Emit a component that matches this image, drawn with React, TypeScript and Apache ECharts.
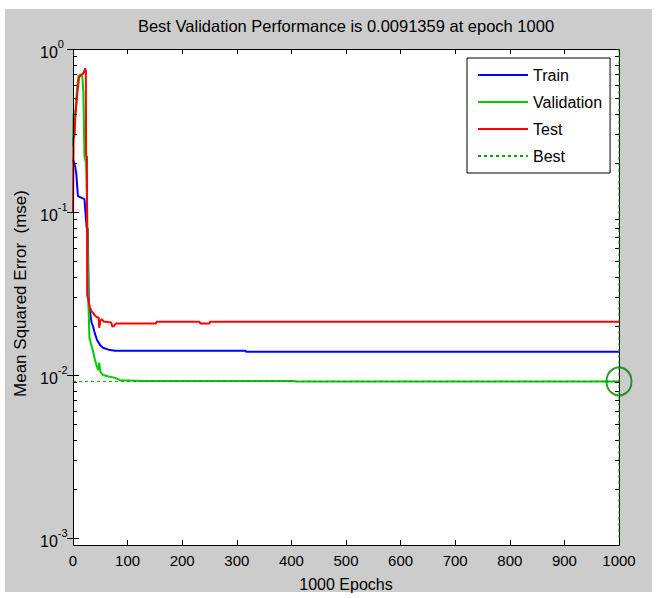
import React, { useEffect, useRef } from "react";
import * as echarts from "echarts";

const titleText = "Best Validation Performance is 0.0091359 at epoch 1000";
const xTicks = [0, 100, 200, 300, 400, 500, 600, 700, 800, 900, 1000];
const bestValue = 0.0091359;
const bestEpoch = 1000;

const trainData: number[][] = [
  [0, 0.21], [4, 0.19], [6, 0.172], [9, 0.125], [21, 0.12], [23, 0.098], [25, 0.08],
  [27, 0.079], [29, 0.026], [31, 0.0245], [34, 0.021], [37, 0.0197], [40, 0.018],
  [44, 0.0164], [50, 0.0152], [55, 0.0147], [65, 0.0143], [77, 0.0141], [316, 0.0141],
  [317, 0.0139], [1000, 0.0139],
];

const validationData: number[][] = [
  [0, 0.25], [1, 0.4], [3, 0.36], [5, 0.45], [8, 0.6], [10, 0.68], [14, 0.7], [17, 0.68],
  [19, 0.54], [21, 0.22], [24, 0.2], [26, 0.1], [27, 0.058], [28, 0.03], [30, 0.017],
  [33, 0.0155], [36, 0.0143], [40, 0.0125], [43, 0.0115], [46, 0.0107], [48, 0.0119],
  [50, 0.0105], [55, 0.01], [65, 0.0098], [77, 0.0096], [86, 0.0093], [130, 0.0092],
  [405, 0.0092], [407, 0.0091359], [1000, 0.0091359],
];

const testData: number[][] = [
  [0, 0.1], [1, 0.28], [3, 0.3], [4, 0.37], [6, 0.45], [8, 0.54], [10, 0.62], [11, 0.67],
  [14, 0.69], [17, 0.7], [20, 0.72], [22, 0.76], [23.5, 0.74], [24, 0.22], [25.5, 0.22],
  [26, 0.031], [29, 0.028], [31, 0.026], [34, 0.0245], [37, 0.024], [40, 0.0232],
  [44, 0.0226], [47, 0.0225], [48, 0.0195], [50, 0.0215], [53, 0.022], [56, 0.0213],
  [70, 0.021], [72, 0.0198], [75, 0.0199], [78, 0.0207], [152, 0.0207], [153, 0.0212],
  [232, 0.0212], [233, 0.0207], [250, 0.0207], [251, 0.0212], [1000, 0.0212],
];

const bestLine: number[][] = [[0, bestValue], [bestEpoch, bestValue]];
const bestVertical: number[][] = [[bestEpoch, 0.001], [bestEpoch, 1]];

const minorTicks = [
  0.002, 0.003, 0.004, 0.005, 0.006, 0.007, 0.008, 0.009,
  0.02, 0.03, 0.04, 0.05, 0.06, 0.07, 0.08, 0.09,
  0.2, 0.3, 0.4, 0.5, 0.6, 0.7, 0.8, 0.9,
];

const FONT = "'Liberation Sans', Arial, sans-serif";

export default function App() {
  const ref = useRef<HTMLDivElement>(null);
  useEffect(() => {
    document.body.style.margin = "0";
    if (!ref.current) return;
    const chart = echarts.init(ref.current, null, { renderer: "svg" });
    const left = 73, top = 49, width = 546, height = 489, boxH = 496;
    const option: any = {
      animation: false,
      backgroundColor: "#ffffff",
      title: {
        text: titleText,
        left: left + width / 2,
        top: 17,
        padding: 0,
        textAlign: "center",
        textStyle: { fontSize: 16.5, fontWeight: "normal", color: "#000", fontFamily: FONT },
      },
      graphic: [
        { type: "rect", z: -10, shape: { x: 5, y: 9, width: 647, height: 583 }, style: { fill: "#cccccc" } },
        { type: "rect", z: -5, shape: { x: left, y: top, width: width, height: boxH }, style: { fill: "#ffffff" } },
        { type: "rect", z: 50, shape: { x: left + 0.5, y: top + 0.5, width: width, height: boxH }, style: { fill: "none", stroke: "#000", lineWidth: 1 } },
      ],
      legend: {
        orient: "vertical",
        left: 467,
        top: 58,
        itemWidth: 50,
        itemHeight: 14,
        itemGap: 11,
        padding: [9, 8, 9, 10],
        backgroundColor: "#ffffff",
        borderColor: "#000",
        borderWidth: 1,
        selectedMode: false,
        itemStyle: { opacity: 0 },
        data: ["Train", "Validation", "Test", "Best"],
        textStyle: { fontSize: 16, color: "#000", fontFamily: FONT },
        z: 60,
      },
      grid: { left, top, width, height, containLabel: false },
      xAxis: [
        {
          type: "value",
          min: 0,
          max: 1000,
          interval: 100,
          offset: boxH - height,
          name: "1000 Epochs",
          nameLocation: "middle",
          nameGap: 31,
          nameTextStyle: { fontSize: 16, color: "#000", fontFamily: FONT },
          axisLine: { show: false },
          axisTick: { show: true, inside: true, length: 5, lineStyle: { color: "#000" } },
          axisLabel: { margin: 8, fontSize: 15, color: "#000", fontFamily: FONT, formatter: (v: number) => (xTicks.includes(v) ? String(v) : "") },
          splitLine: { show: false },
        },
        {
          type: "value",
          position: "top",
          min: 0,
          max: 1000,
          interval: 100,
          axisLine: { show: false },
          axisTick: { show: true, inside: true, length: 5, lineStyle: { color: "#000" } },
          axisLabel: { show: false },
          splitLine: { show: false },
        },
      ],
      yAxis: [
        {
          type: "log",
          logBase: 10,
          min: 0.001,
          max: 1,
          name: "Mean Squared Error  (mse)",
          nameLocation: "middle",
          nameGap: 44,
          nameTextStyle: { fontSize: 17, color: "#000", fontFamily: FONT },
          axisLine: { show: false },
          axisTick: { show: true, inside: true, length: 6, lineStyle: { color: "#000" } },
          axisLabel: {
            align: "left",
            margin: 33,
            color: "#000",
            fontFamily: FONT,
            formatter: (v: number) => "{b|10}{s|" + Math.round(Math.log10(v)) + "}",
            rich: {
              b: { fontSize: 16, color: "#000", fontFamily: FONT, verticalAlign: "bottom", lineHeight: 22 },
              s: { fontSize: 11, color: "#000", fontFamily: FONT, verticalAlign: "top", lineHeight: 22 },
            },
          },
          splitLine: { show: false },
        },
        {
          type: "log",
          logBase: 10,
          min: 0.001,
          max: 1,
          position: "right",
          axisLine: { show: false },
          axisTick: { show: true, inside: true, length: 6, lineStyle: { color: "#000" } },
          axisLabel: { show: false },
          splitLine: { show: false },
        },
      ],
      series: [
        {
          type: "custom",
          name: "minorTicks",
          silent: true,
          clip: false,
          z: 40,
          data: minorTicks.map((v) => [0, v]),
          renderItem: (params: any, api: any) => {
            const v = api.value(1);
            const l = api.coord([0, v]);
            const r = api.coord([1000, v]);
            const y = Math.round(l[1]) + 0.5;
            return {
              type: "group",
              children: [
                { type: "line", shape: { x1: l[0], y1: y, x2: l[0] + 4, y2: y }, style: { stroke: "#000", lineWidth: 1 } },
                { type: "line", shape: { x1: r[0], y1: y, x2: r[0] - 4, y2: y }, style: { stroke: "#000", lineWidth: 1 } },
              ],
            };
          },
        },
        {
          type: "line", name: "Train", data: trainData, symbol: "none", showSymbol: false,
          lineStyle: { color: "#0000ff", width: 2 }, itemStyle: { color: "#0000ff" },
        },
        {
          type: "line", name: "Validation", data: validationData, symbol: "none", showSymbol: false,
          lineStyle: { color: "#00cc00", width: 2 }, itemStyle: { color: "#00cc00" },
        },
        {
          type: "line", name: "Test", data: testData, symbol: "none", showSymbol: false,
          lineStyle: { color: "#ff0000", width: 2 }, itemStyle: { color: "#ff0000" },
        },
        {
          type: "line", name: "Best", data: bestLine, symbol: "none", showSymbol: false,
          lineStyle: { color: "#00a000", width: 1, type: [3, 3] }, itemStyle: { color: "#00a000" },
        },
        {
          type: "line", name: "BestVertical", data: bestVertical, symbol: "none", showSymbol: false, clip: false,
          lineStyle: { color: "#00a000", width: 1, type: [3, 3] }, z: 55,
        },
        {
          type: "scatter", name: "BestPoint", data: [[bestEpoch, bestValue]], symbol: "circle",
          symbolSize: [25, 28], clip: false, z: 56,
          itemStyle: { color: "rgba(0,0,0,0)", borderColor: "#007f00", borderWidth: 2 },
        },
      ],
    };
    chart.setOption(option);
    return () => chart.dispose();
  }, []);
  return <div ref={ref} style={{ width: 658, height: 598 }} />;
}
